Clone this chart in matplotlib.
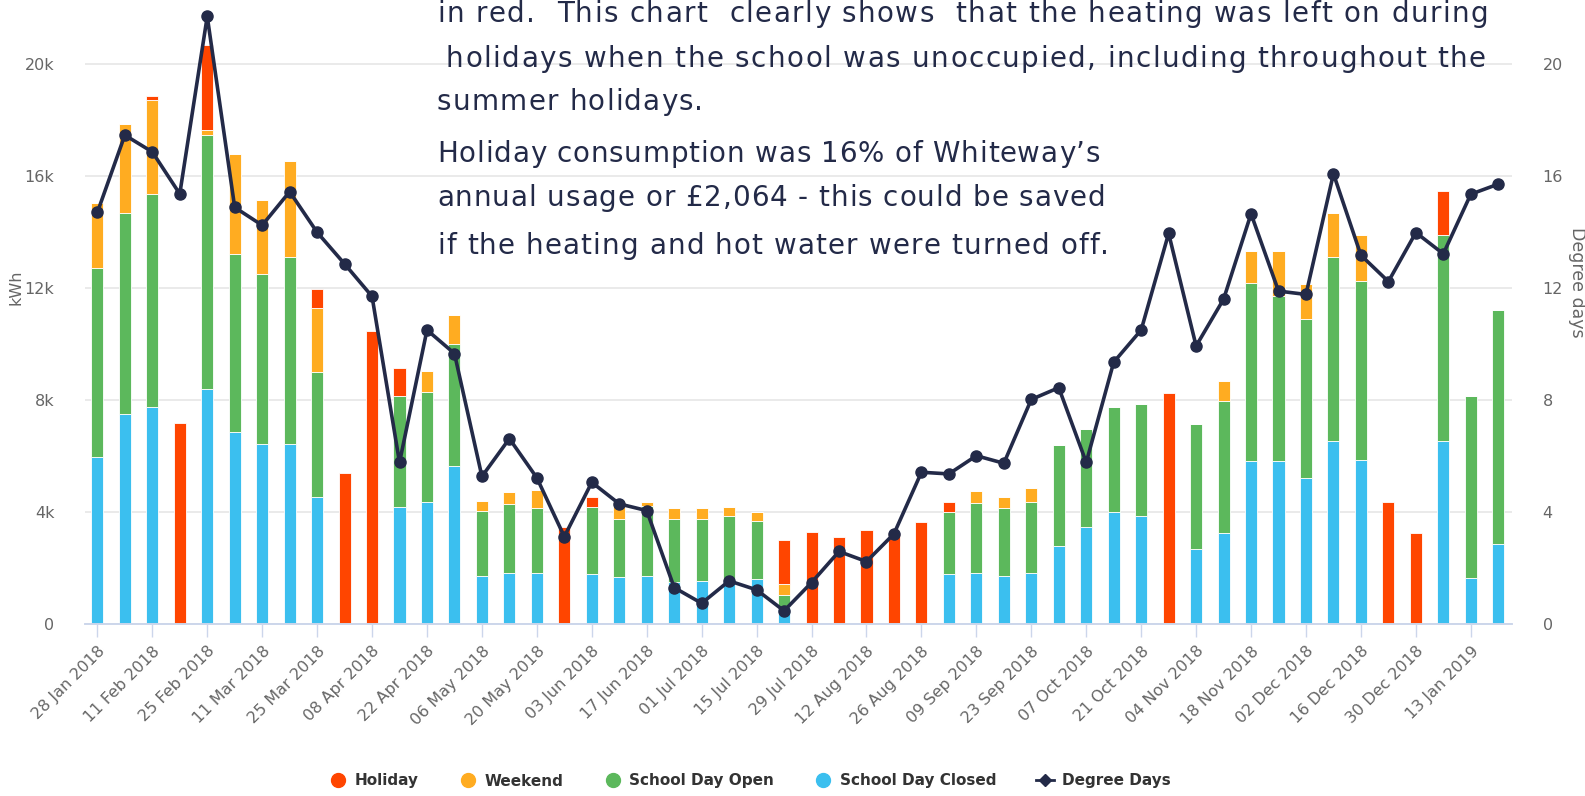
import matplotlib
matplotlib.use("Agg")
import matplotlib.pyplot as plt
from matplotlib.lines import Line2D
import numpy as np

# Weekly data, week starting 28 Jan 2018 (values in kWh)
week_labels = [
    "28 Jan 2018", "11 Feb 2018", "25 Feb 2018", "11 Mar 2018", "25 Mar 2018",
    "08 Apr 2018", "22 Apr 2018", "06 May 2018", "20 May 2018", "03 Jun 2018",
    "17 Jun 2018", "01 Jul 2018", "15 Jul 2018", "29 Jul 2018", "12 Aug 2018",
    "26 Aug 2018", "09 Sep 2018", "23 Sep 2018", "07 Oct 2018", "21 Oct 2018",
    "04 Nov 2018", "18 Nov 2018", "02 Dec 2018", "16 Dec 2018", "30 Dec 2018",
    "13 Jan 2019",
]

school_day_closed = [
    5970, 7500, 7760, 0, 8390, 6850, 6420, 6420, 4540, 0,
    0, 4180, 4370, 5660, 1710, 1820, 1820, 0, 1790, 1690,
    1710, 1510, 1540, 1540, 1600, 610, 0, 0, 0, 0,
    0, 1790, 1830, 1710, 1830, 2780, 3450, 4000, 3870, 0,
    2690, 3240, 5810, 5810, 5230, 6540, 5870, 0, 0, 6540,
    1630, 2850,
]
school_day_open = [
    6730, 7180, 7590, 0, 9070, 6350, 6080, 6680, 4460, 0,
    0, 3980, 3930, 4340, 2310, 2480, 2340, 0, 2380, 2060,
    2490, 2240, 2210, 2320, 2070, 440, 0, 0, 0, 0,
    0, 2200, 2480, 2420, 2540, 3610, 3510, 3750, 4000, 0,
    4450, 4710, 6380, 5890, 5670, 6560, 6380, 0, 0, 7350,
    6510, 8350,
]
weekend = [
    2340, 3180, 3350, 0, 180, 3590, 2640, 3450, 2280, 0,
    0, 0, 740, 1040, 390, 430, 640, 0, 0, 620,
    170, 380, 380, 330, 330, 370, 0, 0, 0, 0,
    0, 0, 450, 420, 500, 0, 0, 0, 0, 0,
    0, 730, 1130, 1620, 1230, 1570, 1640, 0, 0, 0,
    0, 0,
]
holiday = [
    0, 0, 150, 7170, 3040, 0, 0, 0, 700, 5380,
    10460, 980, 0, 0, 0, 0, 0, 3470, 380, 0,
    0, 0, 0, 0, 0, 1580, 3280, 3100, 3340, 3250,
    3660, 380, 0, 0, 0, 0, 0, 0, 0, 8260,
    0, 0, 0, 0, 0, 0, 0, 4360, 3240, 1570,
    0, 0,
]
degree_days = [
    14.7, 17.46, 16.86, 15.36, 21.7, 14.88, 14.24, 15.44, 13.99, 12.86,
    11.7, 5.77, 10.5, 9.66, 5.27, 6.62, 5.22, 3.12, 5.06, 4.29,
    4.05, 1.3, 0.74, 1.54, 1.22, 0.47, 1.48, 2.59, 2.23, 3.22,
    5.42, 5.36, 6.01, 5.74, 8.02, 8.44, 5.77, 9.35, 10.5, 13.95,
    9.93, 11.6, 14.65, 11.89, 11.77, 16.08, 13.17, 12.23, 13.98, 13.22,
    15.35, 15.71,
]

note_lines = [
    "in red.  This chart  clearly shows  that the heating was left on during",
    "holidays when the school was unoccupied, including throughout the",
    "summer holidays.",
    "Holiday consumption was 16% of Whiteway\u2019s",
    "annual usage or \u00a32,064 - this could be saved",
    "if the heating and hot water were turned off.",
]

RED = "#ff4500"
ORANGE = "#ffac21"
GREEN = "#5cb85c"
BLUE = "#3bbfef"
NAVY = "#232a48"
GREY = "#666666"
AXIS = "#ccd6eb"

W, H = 1585, 796
fig = plt.figure(figsize=(W / 100, H / 100), dpi=100)
fig.patch.set_facecolor("white")
ax = fig.add_axes([85 / W, 1 - 624 / H, (1512 - 85) / W, 624 / H])
ax2 = ax.twinx()

x = np.arange(len(degree_days))
blue = np.array(school_day_closed) / 1000
green = np.array(school_day_open) / 1000
orange = np.array(weekend) / 1000
red = np.array(holiday) / 1000

# Stacked columns, bottom to top: closed, open, weekend, holiday
bottom = np.zeros(len(x))
for vals, col in [(blue, BLUE), (green, GREEN), (orange, ORANGE), (red, RED)]:
    ax.bar(x, vals, 0.44, bottom=bottom, color=col, edgecolor="white",
           linewidth=0.6, zorder=2)
    bottom = bottom + vals

ymax = 624 / 28
ax.set_ylim(0, ymax)
ax.set_xlim(-0.45, len(x) - 0.5)
ax.set_yticks(np.arange(0, 21, 4))
ax.set_yticklabels(["0"] + [f"{v}k" for v in range(4, 21, 4)])
ax.grid(True, axis="y", color="#e6e6e6", linewidth=1.2, zorder=0)
ax.set_axisbelow(True)

ax.set_xticks(x[::2])
ax.set_xticklabels(week_labels, rotation=45, ha="right", rotation_mode="anchor")
ax.tick_params(axis="x", length=9, width=1, color=AXIS, pad=5,
               labelsize=11.5, labelcolor=GREY)
ax.tick_params(axis="y", length=0, pad=22, labelsize=11.5, labelcolor=GREY)

# Degree days on the right axis
ax2.set_ylim(0, ymax)
ax2.set_yticks(np.arange(0, 21, 4))
ax2.tick_params(axis="y", length=0, pad=22, labelsize=11.5, labelcolor=GREY)
ax2.plot(x, degree_days, color=NAVY, linewidth=2.6, marker="o",
         markersize=8, zorder=5)
ax2.set_zorder(ax.get_zorder() + 1)
ax2.patch.set_visible(False)

for a in (ax, ax2):
    for s in ["top", "left", "right"]:
        a.spines[s].set_visible(False)
    a.spines["bottom"].set_color(AXIS)
    a.spines["bottom"].set_linewidth(1.2)

fig.text(8 / W, 1 - 287 / H, "kWh", rotation=90, color=GREY, fontsize=11.5,
         ha="left", va="center")
fig.text(1577 / W, 1 - 282 / H, "Degree days", rotation=270, color=GREY,
         fontsize=12.5, ha="center", va="center")


# Overlaid note: each line spread letter by letter (letter-spaced, justified)
def draw_line(text, y_px, x0_px, x1_px=None, size=20, spacing=1.2):
    renderer = fig.canvas.get_renderer()
    space_w = fig.text(0, 0, "a a", fontsize=size).get_window_extent(renderer).width \
        - fig.text(0, 0, "aa", fontsize=size).get_window_extent(renderer).width
    fig.texts[-2:] = []
    items = []
    for ch in text:
        if ch == " ":
            items.append((None, space_w))
            continue
        t = fig.text(0, 1 - y_px / H, ch, fontsize=size, color=NAVY,
                     family="DejaVu Sans", ha="left", va="baseline")
        items.append((t, t.get_window_extent(renderer).width))
    if x1_px is not None:
        natural = sum(w for _, w in items)
        spacing = (x1_px - x0_px - natural) / (len(items) - 1)
    pos = x0_px
    for t, w in items:
        if t is not None:
            t.set_x(pos / W)
        pos += w + spacing


draw_line(note_lines[0], 22, 437, 1488)
draw_line(note_lines[1], 67, 446, 1486)
draw_line(note_lines[2], 110, 437)
draw_line(note_lines[3], 162, 437, 1100)
draw_line(note_lines[4], 206, 437, 1105)
draw_line(note_lines[5], 254, 437, 1109)

# Legend
handles = [
    Line2D([], [], marker="o", linestyle="none", color=RED, markersize=10),
    Line2D([], [], marker="o", linestyle="none", color=ORANGE, markersize=10),
    Line2D([], [], marker="o", linestyle="none", color=GREEN, markersize=10),
    Line2D([], [], marker="o", linestyle="none", color=BLUE, markersize=10),
    Line2D([], [], marker="D", color=NAVY, markersize=6, linewidth=2),
]
labels = ["Holiday", "Weekend", "School Day Open", "School Day Closed", "Degree Days"]
leg = fig.legend(handles, labels, loc="center", bbox_to_anchor=(750 / W, 1 - 781 / H),
                 ncol=5, frameon=False, handlelength=1.2, handletextpad=0.5,
                 columnspacing=2.6, prop={"size": 11, "weight": "bold"})
for t in leg.get_texts():
    t.set_color("#333333")

fig.savefig("out.png", dpi=100)
